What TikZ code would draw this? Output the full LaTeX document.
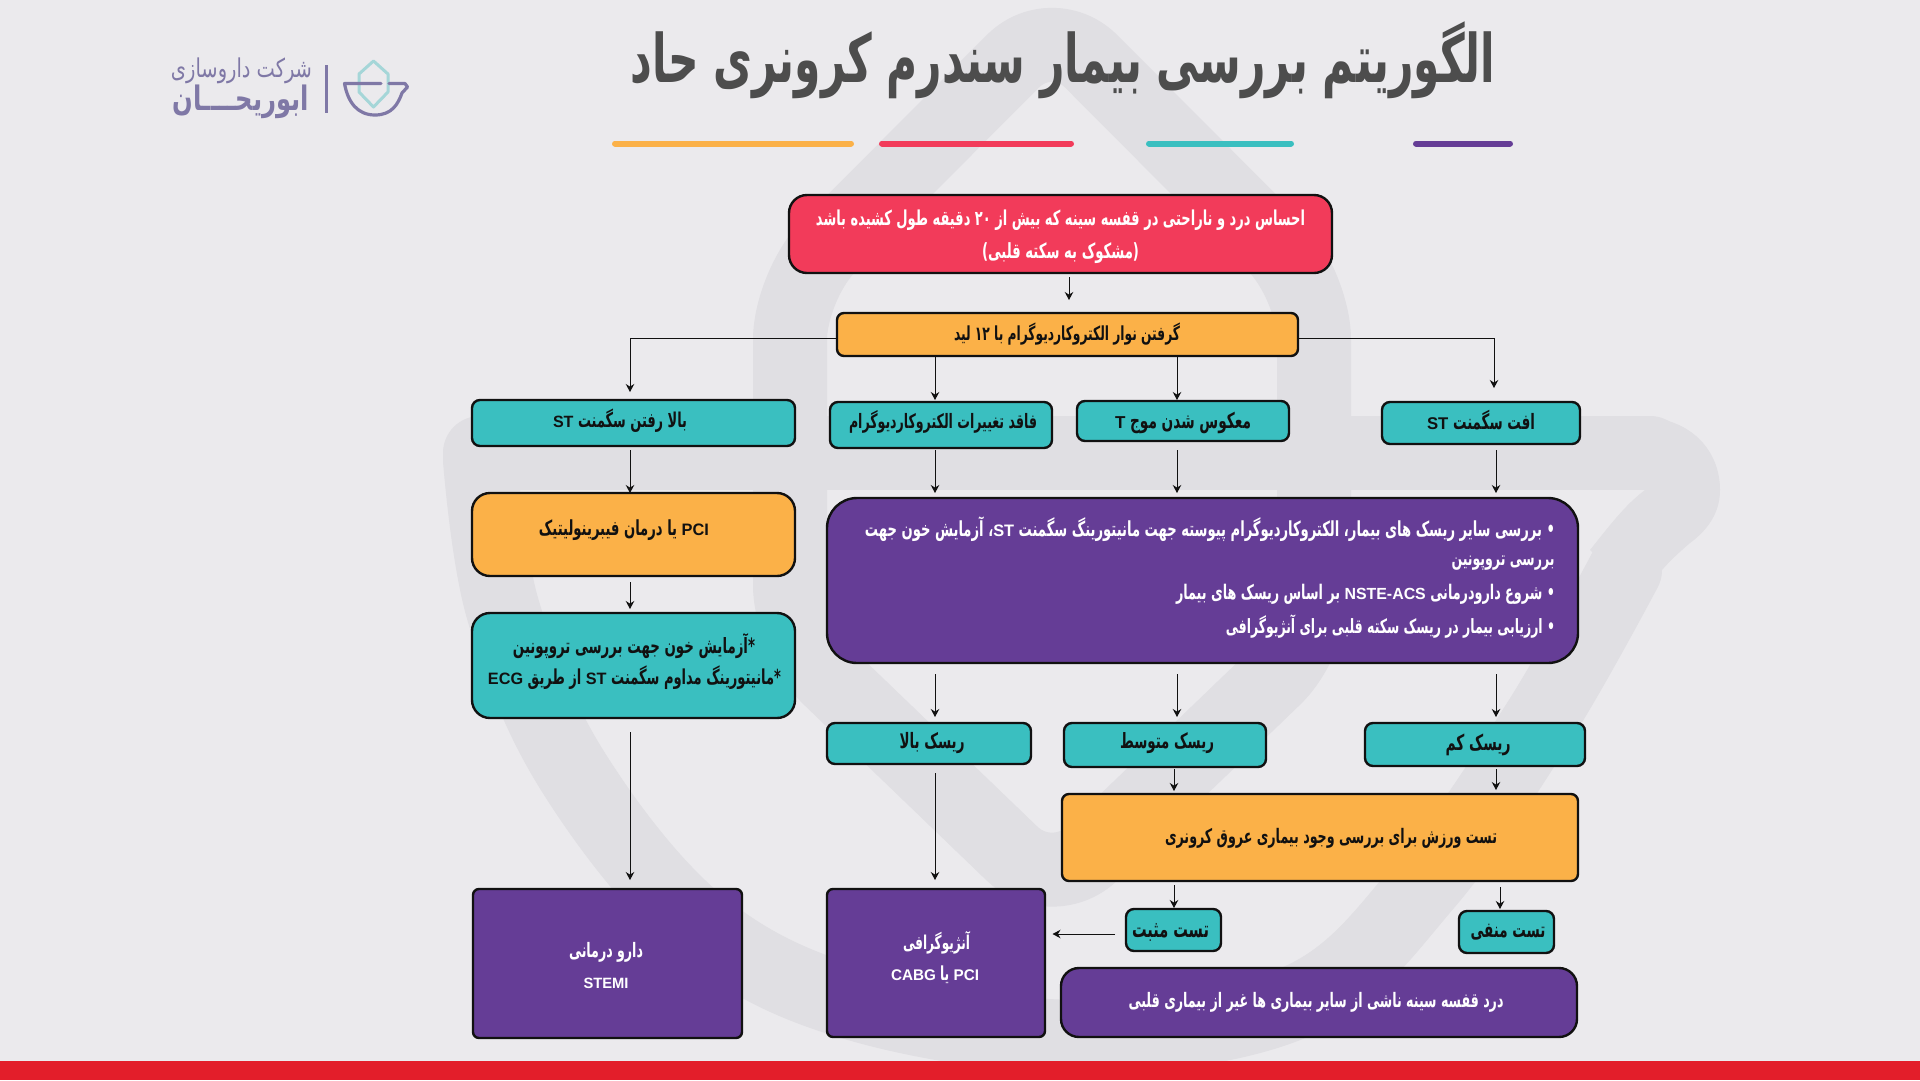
\documentclass[tikz,border=0pt]{standalone}
\usepackage{fontspec}
\usepackage{graphicx}
\usetikzlibrary{arrows.meta,calc}
\TeXXeTstate=1
\newfontfamily\arb[Script=Arabic]{DejaVu Sans Condensed}
\newfontfamily\lat[Scale=0.8,FakeStretch=1.4]{Liberation Sans}
\newcommand{\ltr}[1]{\beginL{\lat #1}\endL{}}
\definecolor{bgc}{HTML}{EBEAED}
\definecolor{wmc}{HTML}{E0DFE3}
\definecolor{titlec}{HTML}{4D4D4D}
\definecolor{redc}{HTML}{F23B5A}
\definecolor{orc}{HTML}{FBB148}
\definecolor{tealc}{HTML}{3ABFC0}
\definecolor{purc}{HTML}{653D96}
\definecolor{barc}{HTML}{E31E2A}
\definecolor{logoc}{HTML}{7F78A6}
\definecolor{gemc}{HTML}{A5D6D8}
\definecolor{inkc}{HTML}{111111}
\tikzset{
  x=1pt,y=-1pt,
  boxbase/.style={draw=inkc,line width=2.4pt,inner sep=0pt,outer sep=0pt},
  redbox/.style={boxbase,fill=redc,rounded corners=18pt},
  orbox/.style={boxbase,fill=orc,rounded corners=7pt},
  orbig/.style={boxbase,fill=orc,rounded corners=18pt},
  tealbox/.style={boxbase,fill=tealc,rounded corners=8pt},
  tealbig/.style={boxbase,fill=tealc,rounded corners=18pt},
  purbox/.style={boxbase,fill=purc,rounded corners=6pt},
  purbig/.style={boxbase,fill=purc,rounded corners=30pt},
  purmid/.style={boxbase,fill=purc,rounded corners=18pt},
  blacktext/.style={text=inkc,inner sep=0pt,outer sep=0pt,font=\arb\bfseries},
  whitetext/.style={text=white,inner sep=0pt,outer sep=0pt,font=\arb\bfseries},
  arr/.style={draw=inkc,line width=1pt,-{Stealth[length=8pt,width=8.5pt]}},
  wm/.style={draw=wmc,line width=74pt,line join=round,line cap=round},
  accent/.style={line width=6pt,line cap=round},
}
% name, style, x1, y1, x2, y2
\newcommand{\bx}[6]{\node[#2,minimum width={#5-#3-2},minimum height={#6-#4-2}] (#1) at ({(#3+#5)/2},{(#4+#6)/2}) {};}
% name, style, cx, cy, width, text
\newcommand{\tx}[6]{\node[#2] (#1) at (#3,#4) {\scalebox{1}[1.42]{\resizebox{#5pt}{!}{#6}}};}
% x-coordinate name, from, to, gap start, gap end
\newcommand{\conn}[5]{\draw[arr,shorten <=#4pt,shorten >=#5pt] (#1 |- #2.south) -- (#1 |- #3.north);}
\begin{document}
\begin{tikzpicture}
\useasboundingbox (0,0) rectangle (1920,1080);
\fill[bgc] (0,0) rectangle (1920,1080);
% watermark
\draw[wm,rounded corners=55pt] (790,640) -- (790,285) -- (1052,22) -- (1314,285) -- (1314,640) -- (1052,892) -- cycle;
\draw[wm] (480,453) -- (1650,453);
\draw[wm] plot[smooth,tension=0.6] coordinates {(480,460) (503,610) (572,770) (700,925) (860,1005) (1090,1037) (1300,1000) (1425,885) (1540,720) (1625,570)};
\fill[wmc] (1640,417) .. controls (1690,417) and (1720,450) .. (1720,490) .. controls (1720,515) and (1705,532) .. (1690,543) .. controls (1670,560) and (1650,580) .. (1643,600) -- (1590,550) .. controls (1610,525) and (1625,505) .. (1645,490) -- cycle;
% bottom bar
\fill[barc] (0,1061) rectangle (1920,1080);
% logo
\draw[gemc,line width=3pt,line join=round] (373.5,61) -- (388,74) -- (388,92) -- (373.5,107) -- (359,92) -- (359,74) -- cycle;
\draw[logoc,line width=3.2pt,line cap=round,line join=round] (381,83.5) -- (344.5,83.5) .. controls (348,103) and (358,115) .. (375,115) .. controls (392,115) and (398,104) .. (402,93) -- (407.5,87) -- (405,83.5) -- (389,83.5);
\draw[logoc,line width=2.6pt] (326.5,65) -- (326.5,113);
\node[inner sep=0pt,text=logoc,font=\arb] (logotop) at (241.5,71) {\scalebox{1}[1.2]{\resizebox{141pt}{!}{\beginR شرکت داروسازی\endR}}};
\node[inner sep=0pt,text=logoc,font=\arb\bfseries] (logomain) at (241,102) {\scalebox{1}[1.25]{\resizebox{136pt}{!}{\beginR ابوریحــــان\endR}}};
% title
\node[inner sep=0pt,text=titlec,font=\arb\bfseries] (title) at (1063,60) {\scalebox{1}[1.42]{\resizebox{864pt}{!}{\beginR الگوریتم بررسی بیمار سندرم کرونری حاد\endR}}};
% accent lines
\draw[accent,orc] (615,143.5) -- (851,143.5);
\draw[accent,redc] (882,143.5) -- (1071,143.5);
\draw[accent,tealc] (1149,143.5) -- (1291,143.5);
\draw[accent,purc] (1416,143.5) -- (1510,143.5);
% boxes
\bx{red}{redbox}{788}{194}{1333}{274}
\bx{ecg}{orbox}{836}{312}{1299}{357}
\bx{stup}{tealbox}{471}{399}{796}{447}
\bx{noch}{tealbox}{829}{401}{1053}{449}
\bx{tinv}{tealbox}{1076}{400}{1290}{442}
\bx{stdn}{tealbox}{1381}{401}{1581}{445}
\bx{pci}{orbig}{471}{492}{796}{577}
\bx{tro}{tealbig}{471}{612}{796}{719}
\bx{main}{purbig}{826}{497}{1579}{664}
\bx{rhi}{tealbox}{826}{722}{1032}{765}
\bx{rmd}{tealbox}{1063}{722}{1267}{768}
\bx{rlo}{tealbox}{1364}{722}{1586}{767}
\bx{ex}{orbox}{1061}{793}{1579}{882}
\bx{pos}{tealbox}{1125}{908}{1222}{952}
\bx{neg}{tealbox}{1458}{910}{1555}{954}
\bx{darou}{purbox}{472}{888}{743}{1039}
\bx{ang}{purbox}{826}{888}{1046}{1038}
\bx{oth}{purmid}{1060}{967}{1578}{1038}
% texts
\tx{t1}{whitetext}{1060.5}{220}{489}{\beginR احساس درد و ناراحتی در قفسه سینه که بیش از ۲۰ دقیقه طول کشیده باشد\endR}
\tx{t2}{whitetext}{1060.5}{253}{157}{\beginR (مشکوک به سکته قلبی)\endR}
\tx{t3}{blacktext}{1067}{334}{226}{\beginR گرفتن نوار الکتروکاردیوگرام با ۱۲ لید\endR}
\tx{t4}{blacktext}{620}{421}{134}{\beginR بالا رفتن سگمنت \ltr{ST}\endR}
\tx{t5}{blacktext}{943}{422}{188}{\beginR فاقد تغییرات الکتروکاردیوگرام\endR}
\tx{t6}{blacktext}{1183}{423}{136}{\beginR معکوس شدن موج \ltr{T}\endR}
\tx{t7}{blacktext}{1481}{420}{108}{\beginR افت سگمنت \ltr{ST}\endR}
\tx{t8}{blacktext}{624}{530}{170}{\beginR \ltr{PCI} یا درمان فیبرینولیتیک\endR}
\tx{t9}{blacktext}{634}{646}{242}{\beginR *آزمایش خون جهت بررسی تروپونین\endR}
\tx{t10}{blacktext}{634.5}{678}{293}{\beginR *مانیتورینگ مداوم سگمنت \ltr{ST} از طریق \ltr{ECG}\endR}
\tx{t11}{whitetext}{1210}{529}{690}{\beginR • بررسی سایر ریسک های بیمار، الکتروکاردیوگرام پیوسته جهت مانیتورینگ سگمنت \ltr{ST}، آزمایش خون جهت\endR}
\tx{t12}{whitetext}{1503}{563}{103}{\beginR بررسی تروپونین\endR}
\tx{t13}{whitetext}{1365.5}{594}{379}{\beginR • شروع دارودرمانی \ltr{NSTE-ACS} بر اساس ریسک های بیمار\endR}
\tx{t14}{whitetext}{1390.5}{626}{329}{\beginR • ارزیابی بیمار در ریسک سکته قلبی برای آنژیوگرافی\endR}
\tx{t15}{blacktext}{932}{743}{65}{\beginR ریسک بالا\endR}
\tx{t16}{blacktext}{1167}{743}{94}{\beginR ریسک متوسط\endR}
\tx{t17}{blacktext}{1478}{745}{65}{\beginR ریسک کم\endR}
\tx{t18}{blacktext}{1331}{838}{332}{\beginR تست ورزش برای بررسی وجود بیماری عروق کرونری\endR}
\tx{t19}{blacktext}{1170.5}{932}{77}{\beginR تست مثبت\endR}
\tx{t20}{blacktext}{1508}{932}{75}{\beginR تست منفی\endR}
\tx{t21}{whitetext}{1316}{1002}{375}{\beginR درد قفسه سینه ناشی از سایر بیماری ها غیر از بیماری قلبی\endR}
\tx{t22}{whitetext}{606}{952}{74}{\beginR دارو درمانی\endR}
\tx{t23}{whitetext}{606}{983}{45}{\beginR\ltr{STEMI}\endR}
\tx{t24}{whitetext}{936.5}{943}{67}{\beginR آنژیوگرافی\endR}
\tx{t25}{whitetext}{935}{975}{88}{\beginR \ltr{PCI} یا \ltr{CABG}\endR}
% connector columns
\coordinate (c630) at (630,0);
\coordinate (c935) at (935,0);
\coordinate (c1069) at (1069,0);
\coordinate (c1174) at (1174,0);
\coordinate (c1177) at (1177,0);
\coordinate (c1494) at (1494,0);
\coordinate (c1496) at (1496,0);
\coordinate (c1500) at (1500,0);
\coordinate (r338) at (0,338);
\coordinate (r934) at (0,934);
% connectors
\conn{c1069}{red}{ecg}{4}{13}
\conn{c935}{ecg}{noch}{0}{2}
\conn{c1177}{ecg}{tinv}{0}{1}
\draw[arr,shorten >=8pt] (ecg.west |- r338) -| (c630 |- stup.north);
\draw[arr,shorten >=14pt] (ecg.east |- r338) -| (c1494 |- stdn.north);
\conn{c630}{stup}{pci}{4}{0}
\conn{c630}{pci}{tro}{6}{4}
\conn{c630}{tro}{darou}{14}{9}
\conn{c935}{noch}{main}{2}{5}
\conn{c1177}{tinv}{main}{9}{5}
\conn{c1496}{stdn}{main}{6}{5}
\conn{c935}{main}{rhi}{11}{6}
\conn{c1177}{main}{rmd}{11}{6}
\conn{c1496}{main}{rlo}{11}{6}
\conn{c935}{rhi}{ang}{9}{9}
\conn{c1174}{rmd}{ex}{2}{3}
\conn{c1496}{rlo}{ex}{3}{4}
\conn{c1174}{ex}{pos}{4}{1}
\conn{c1500}{ex}{neg}{6}{2}
\draw[arr,shorten <=11pt,shorten >=7.5pt] (pos.west |- r934) -- (ang.east |- r934);
\end{tikzpicture}
\end{document}
